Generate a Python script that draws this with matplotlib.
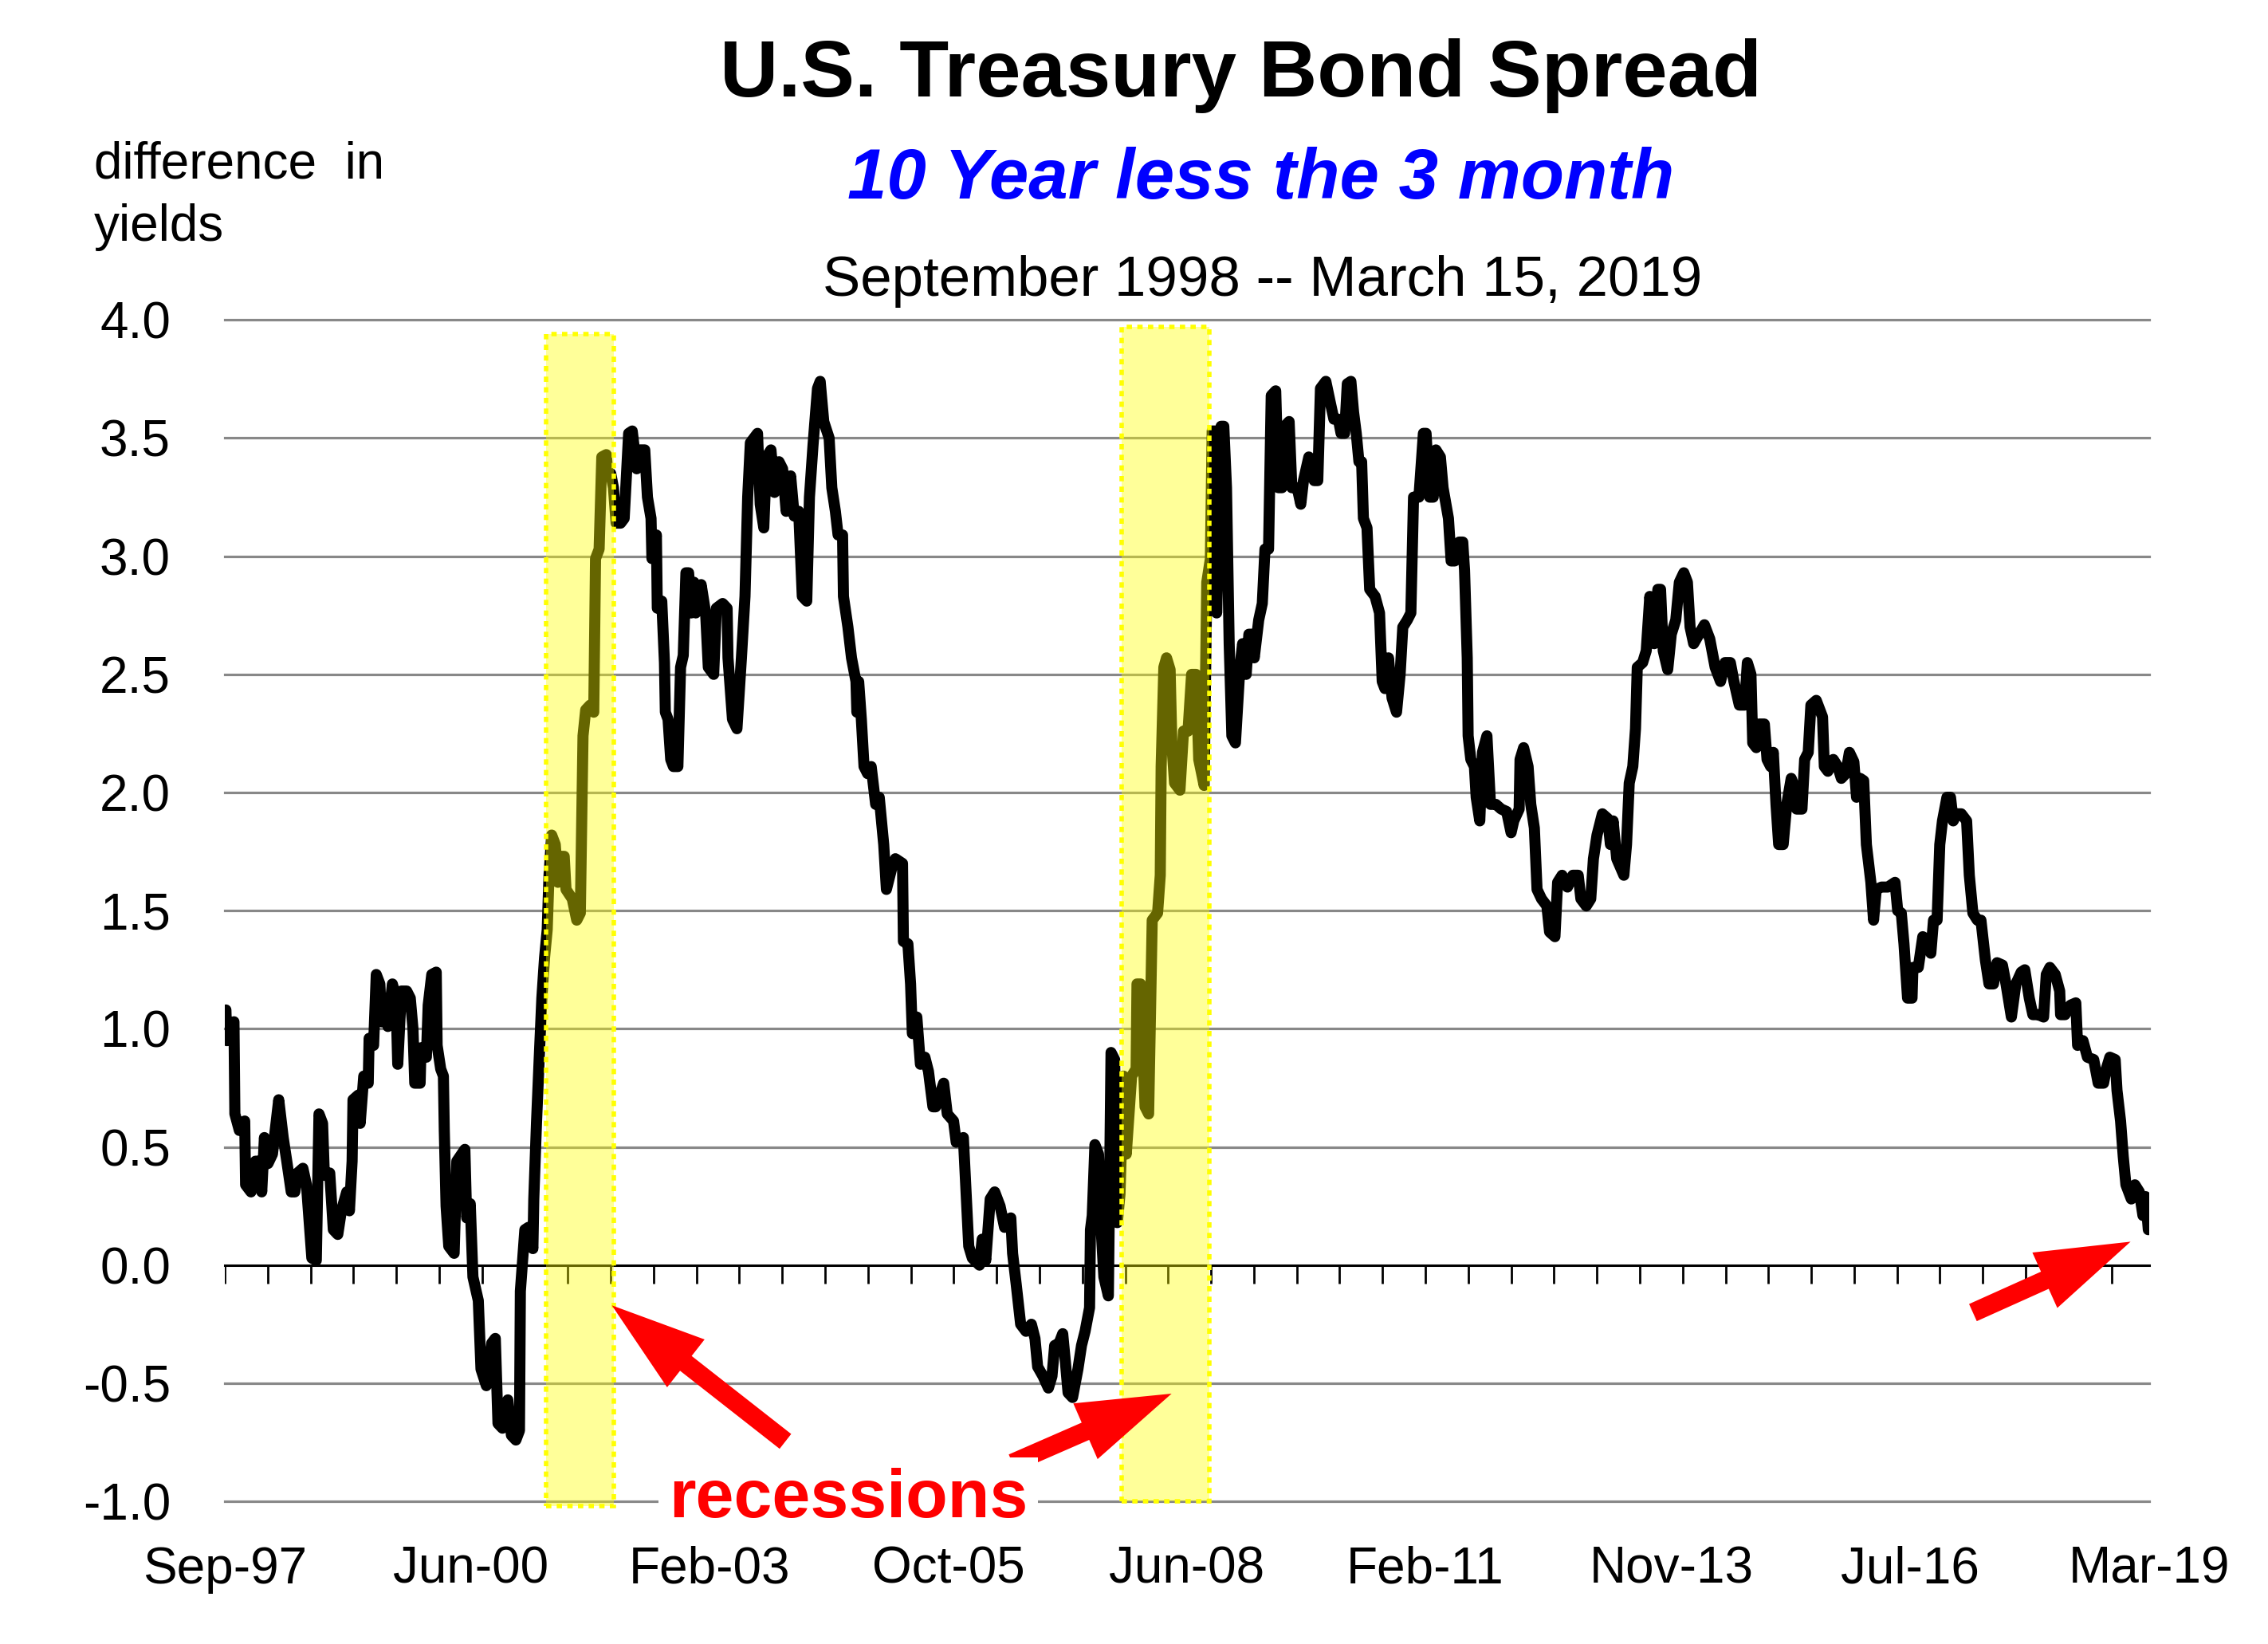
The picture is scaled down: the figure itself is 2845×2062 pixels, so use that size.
import matplotlib
matplotlib.use('Agg')
import matplotlib.pyplot as plt
import numpy as np
from matplotlib.patches import Rectangle, FancyArrow
from matplotlib.transforms import Affine2D

plt.rcParams['font.family'] = ['Liberation Sans', 'DejaVu Sans']
plt.rcParams['axes.unicode_minus'] = False

# weekly spread (decimal year, percentage points)
years = [
    1997.68, 1997.69, 1997.77, 1997.78, 1997.83, 1997.89, 1997.90, 1997.96, 1998.01, 1998.05,
    1998.08, 1998.11, 1998.15, 1998.20, 1998.27, 1998.32, 1998.36, 1998.41, 1998.45, 1998.48,
    1998.54, 1998.58, 1998.64, 1998.69, 1998.72, 1998.76, 1998.78, 1998.84, 1998.88, 1998.93,
    1998.97, 1999.03, 1999.06, 1999.09, 1999.10, 1999.16, 1999.18, 1999.22, 1999.27, 1999.28,
    1999.33, 1999.36, 1999.40, 1999.42, 1999.46, 1999.49, 1999.54, 1999.58, 1999.60, 1999.64,
    1999.70, 1999.74, 1999.77, 1999.79, 1999.85, 1999.86, 1999.92, 1999.94, 1999.98, 2000.03,
    2000.04, 2000.08, 2000.11, 2000.12, 2000.14, 2000.17,
    2000.23, 2000.26, 2000.35, 2000.37, 2000.41, 2000.44, 2000.50, 2000.53, 2000.59, 2000.65,
    2000.69, 2000.72, 2000.77, 2000.83, 2000.87, 2000.92, 2000.96, 2000.97, 2001.02, 2001.06,
    2001.11, 2001.12, 2001.15, 2001.18, 2001.21, 2001.24, 2001.27, 2001.29, 2001.32, 2001.36,
    2001.39, 2001.42, 2001.46, 2001.48, 2001.55, 2001.60, 2001.64, 2001.67, 2001.70, 2001.75,
    2001.79, 2001.81, 2001.85, 2001.88, 2001.93, 2001.95, 2001.98, 2002.01, 2002.04, 2002.09,
    2002.13, 2002.18, 2002.22, 2002.27, 2002.31, 2002.36, 2002.39, 2002.43, 2002.44, 2002.49,
    2002.50, 2002.55, 2002.58, 2002.59, 2002.62, 2002.65, 2002.68, 2002.73, 2002.76, 2002.79,
    2002.82, 2002.85, 2002.88,
    2002.91, 2002.93, 2002.99, 2003.04, 2003.07, 2003.13, 2003.16, 2003.23, 2003.28, 2003.29,
    2003.34, 2003.39, 2003.44, 2003.48, 2003.51, 2003.54, 2003.62, 2003.65, 2003.69, 2003.72,
    2003.77, 2003.81, 2003.86, 2003.90, 2003.94, 2003.99, 2004.03, 2004.08, 2004.12, 2004.17,
    2004.20, 2004.24, 2004.29, 2004.32, 2004.36, 2004.42, 2004.45, 2004.49, 2004.52, 2004.57,
    2004.58, 2004.63, 2004.67, 2004.72, 2004.73, 2004.75, 2004.78, 2004.81, 2004.85, 2004.89,
    2004.94, 2004.98, 2005.03, 2005.06, 2005.12, 2005.16, 2005.24, 2005.25, 2005.30, 2005.33,
    2005.35, 2005.40, 2005.44, 2005.49, 2005.53, 2005.58,
    2005.61, 2005.70, 2005.74, 2005.81, 2005.84, 2005.92, 2005.95, 2005.98, 2006.02, 2006.10,
    2006.13, 2006.17, 2006.22, 2006.27, 2006.33, 2006.38, 2006.45, 2006.47, 2006.51, 2006.56,
    2006.62, 2006.68, 2006.72, 2006.75, 2006.81, 2006.87, 2006.91, 2006.94, 2006.99, 2007.03,
    2007.06, 2007.09, 2007.14, 2007.20, 2007.24, 2007.28, 2007.33, 2007.34, 2007.36, 2007.39,
    2007.43, 2007.46, 2007.49, 2007.54, 2007.57, 2007.61, 2007.64, 2007.67, 2007.71, 2007.74,
    2007.80, 2007.85, 2007.86, 2007.90, 2007.95, 2007.99, 2008.03, 2008.09, 2008.12, 2008.13,
    2008.16, 2008.19, 2008.23,
    2008.25, 2008.28, 2008.34, 2008.38, 2008.43, 2008.47, 2008.52, 2008.55, 2008.61, 2008.64,
    2008.68, 2008.70, 2008.74, 2008.75, 2008.80, 2008.83, 2008.86, 2008.89, 2008.92, 2008.96,
    2009.01, 2009.04, 2009.08, 2009.11, 2009.14, 2009.17, 2009.22, 2009.26, 2009.29, 2009.33,
    2009.36, 2009.41, 2009.44, 2009.48, 2009.51, 2009.56, 2009.59, 2009.65, 2009.69, 2009.72,
    2009.78, 2009.84, 2009.88, 2009.91, 2009.97, 2010.02, 2010.06, 2010.11, 2010.14, 2010.18,
    2010.21, 2010.25, 2010.28, 2010.31, 2010.34, 2010.37, 2010.39, 2010.43, 2010.46, 2010.52,
    2010.57, 2010.60, 2010.63, 2010.67, 2010.71, 2010.76, 2010.80, 2010.83, 2010.88,
    2010.92, 2010.95, 2011.01, 2011.06, 2011.09, 2011.13, 2011.17, 2011.20, 2011.25, 2011.28,
    2011.34, 2011.37, 2011.41, 2011.46, 2011.50, 2011.52, 2011.55, 2011.56, 2011.59, 2011.63,
    2011.65, 2011.69, 2011.72, 2011.77, 2011.81, 2011.87, 2011.93, 2011.99, 2012.04, 2012.07,
    2012.13, 2012.14, 2012.18, 2012.23, 2012.26, 2012.30, 2012.33, 2012.38, 2012.44, 2012.47,
    2012.53, 2012.56, 2012.61, 2012.67, 2012.73, 2012.79, 2012.82, 2012.88, 2012.93, 2012.96,
    2013.00, 2013.06, 2013.12, 2013.15, 2013.18, 2013.22, 2013.30, 2013.33, 2013.36, 2013.40,
    2013.43, 2013.45, 2013.51, 2013.55,
    2013.59, 2013.64, 2013.68, 2013.71, 2013.74, 2013.79, 2013.83, 2013.88, 2013.92, 2013.97,
    2014.01, 2014.04, 2014.08, 2014.14, 2014.20, 2014.26, 2014.32, 2014.38, 2014.43, 2014.49,
    2014.53, 2014.59, 2014.65, 2014.68, 2014.72, 2014.74, 2014.78, 2014.81, 2014.87, 2014.90,
    2014.94, 2014.97, 2015.00, 2015.03, 2015.08, 2015.12, 2015.17, 2015.20, 2015.23, 2015.29,
    2015.32, 2015.36, 2015.39, 2015.45, 2015.52, 2015.54, 2015.58, 2015.64, 2015.69, 2015.73,
    2015.78, 2015.82, 2015.87, 2015.90, 2015.94, 2015.98, 2016.01, 2016.06, 2016.09, 2016.12,
    2016.18, 2016.25,
    2016.33, 2016.36, 2016.40, 2016.43, 2016.47, 2016.52, 2016.53, 2016.59, 2016.64, 2016.68,
    2016.73, 2016.76, 2016.80, 2016.83, 2016.86, 2016.91, 2016.95, 2016.98, 2017.02, 2017.07,
    2017.13, 2017.16, 2017.20, 2017.25, 2017.29, 2017.34, 2017.38, 2017.43, 2017.47, 2017.53,
    2017.57, 2017.63, 2017.68, 2017.74, 2017.78, 2017.83, 2017.87, 2017.93, 2017.99, 2018.02,
    2018.06, 2018.12, 2018.17, 2018.18, 2018.23, 2018.29, 2018.35, 2018.37, 2018.43, 2018.48,
    2018.55, 2018.60, 2018.66, 2018.69, 2018.73, 2018.79, 2018.81, 2018.85, 2018.88, 2018.91,
    2018.97, 2019.01, 2019.06, 2019.10, 2019.13, 2019.16,
]
spread = [
    1.08, 0.95, 1.03, 0.64, 0.57, 0.61, 0.34, 0.31, 0.44, 0.44,
    0.31, 0.54, 0.43, 0.47, 0.70, 0.54, 0.44, 0.31, 0.31, 0.39,
    0.41, 0.34, 0.03, 0.02, 0.64, 0.60, 0.38, 0.39, 0.15, 0.13,
    0.23, 0.31, 0.23, 0.44, 0.70, 0.72, 0.60, 0.80, 0.77, 0.96,
    0.93, 1.23, 1.19, 1.03, 1.13, 1.01, 1.19, 1.13, 0.85, 1.16,
    1.16, 1.13, 1.00, 0.77, 0.77, 0.92, 0.88, 1.10, 1.23, 1.24,
    0.93, 0.83, 0.80, 0.57, 0.25, 0.08,
    0.05, 0.44, 0.49, 0.20, 0.26, -0.05, -0.15, -0.44, -0.51, -0.33,
    -0.31, -0.67, -0.69, -0.57, -0.72, -0.74, -0.70, -0.11, 0.15, 0.16,
    0.07, 0.28, 0.60, 0.87, 1.13, 1.30, 1.42, 1.65, 1.82, 1.78,
    1.62, 1.73, 1.73, 1.59, 1.55, 1.46, 1.49, 2.24, 2.35, 2.37,
    2.34, 2.99, 3.03, 3.42, 3.43, 3.34, 3.35, 3.29, 3.14, 3.14,
    3.16, 3.52, 3.53, 3.37, 3.45, 3.45, 3.25, 3.16, 2.99, 3.09,
    2.78, 2.81, 2.55, 2.34, 2.31, 2.14, 2.11, 2.11, 2.53, 2.58,
    2.93, 2.93, 2.76,
    2.89, 2.76, 2.88, 2.76, 2.53, 2.50, 2.78, 2.80, 2.78, 2.57,
    2.31, 2.27, 2.57, 2.83, 3.25, 3.48, 3.52, 3.22, 3.12, 3.42,
    3.45, 3.27, 3.40, 3.37, 3.19, 3.34, 3.17, 3.19, 2.83, 2.81,
    3.25, 3.47, 3.71, 3.74, 3.57, 3.50, 3.29, 3.19, 3.09, 3.09,
    2.83, 2.70, 2.57, 2.47, 2.34, 2.47, 2.31, 2.11, 2.08, 2.11,
    1.95, 1.98, 1.78, 1.59, 1.68, 1.72, 1.70, 1.37, 1.36, 1.19,
    0.98, 1.05, 0.85, 0.88, 0.82, 0.67,
    0.67, 0.77, 0.64, 0.61, 0.52, 0.54, 0.31, 0.08, 0.03, 0.00,
    0.11, 0.02, 0.28, 0.31, 0.25, 0.16, 0.20, 0.05, -0.08, -0.25,
    -0.28, -0.25, -0.31, -0.43, -0.47, -0.52, -0.47, -0.34, -0.33, -0.29,
    -0.41, -0.54, -0.56, -0.44, -0.34, -0.28, -0.18, 0.15, 0.21, 0.51,
    0.47, 0.15, -0.05, -0.13, 0.90, 0.87, 0.18, 0.30, 0.80, 0.47,
    0.80, 0.83, 1.19, 1.19, 0.67, 0.64, 1.46, 1.49, 1.65, 2.11,
    2.53, 2.57, 2.52,
    2.20, 2.04, 2.01, 2.26, 2.26, 2.50, 2.50, 2.14, 2.03, 2.89,
    2.99, 3.53, 3.53, 2.76, 3.55, 3.55, 3.29, 2.63, 2.24, 2.21,
    2.53, 2.63, 2.50, 2.67, 2.67, 2.57, 2.73, 2.80, 3.03, 3.03,
    3.68, 3.70, 3.29, 3.29, 3.55, 3.57, 3.29, 3.29, 3.22, 3.32,
    3.42, 3.32, 3.32, 3.71, 3.74, 3.65, 3.58, 3.58, 3.52, 3.52,
    3.73, 3.74, 3.61, 3.52, 3.40, 3.40, 3.16, 3.12, 2.86, 2.83,
    2.76, 2.47, 2.44, 2.57, 2.40, 2.34, 2.50, 2.70, 2.73,
    2.76, 3.25, 3.25, 3.52, 3.52, 3.25, 3.25, 3.45, 3.42, 3.29,
    3.16, 2.98, 2.98, 3.06, 3.06, 2.94, 2.57, 2.24, 2.14, 2.11,
    1.98, 1.88, 2.17, 2.24, 1.95, 1.95, 1.93, 1.92, 1.83, 1.88,
    1.93, 2.14, 2.19, 2.11, 1.95, 1.85, 1.59, 1.55, 1.52, 1.41,
    1.39, 1.62, 1.65, 1.60, 1.65, 1.65, 1.55, 1.52, 1.55, 1.72,
    1.82, 1.91, 1.89, 1.78, 1.88, 1.72, 1.65, 1.78, 2.04, 2.11,
    2.27, 2.53, 2.55, 2.60,
    2.83, 2.63, 2.86, 2.86, 2.60, 2.52, 2.67, 2.73, 2.89, 2.93,
    2.89, 2.70, 2.63, 2.67, 2.71, 2.65, 2.53, 2.47, 2.55, 2.55,
    2.47, 2.37, 2.37, 2.55, 2.50, 2.21, 2.19, 2.29, 2.29, 2.14,
    2.11, 2.17, 1.95, 1.78, 1.78, 1.95, 2.06, 2.03, 1.93, 1.93,
    2.14, 2.17, 2.37, 2.39, 2.32, 2.11, 2.09, 2.14, 2.11, 2.06,
    2.08, 2.17, 2.13, 1.98, 2.06, 2.05, 1.78, 1.62, 1.46, 1.59,
    1.60, 1.60,
    1.62, 1.50, 1.49, 1.36, 1.13, 1.13, 1.26, 1.26, 1.39, 1.38,
    1.32, 1.46, 1.46, 1.78, 1.88, 1.98, 1.98, 1.88, 1.91, 1.91,
    1.88, 1.65, 1.49, 1.46, 1.46, 1.29, 1.19, 1.19, 1.28, 1.27,
    1.19, 1.05, 1.19, 1.24, 1.25, 1.13, 1.06, 1.06, 1.05, 1.23,
    1.26, 1.23, 1.16, 1.06, 1.06, 1.10, 1.11, 0.93, 0.95, 0.88,
    0.87, 0.77, 0.77, 0.83, 0.88, 0.87, 0.74, 0.61, 0.46, 0.34,
    0.28, 0.34, 0.31, 0.21, 0.29, 0.15,
]

# recession shading as drawn on the chart
recession_start = [2001.26, 2007.69]
recession_end = [2002.01, 2008.67]
recession_top = [3.94, 3.97]
recession_bottom = [-1.02, -1.0]

x_start, x_end = 1997.667, 2019.167
label_dates = [1997.667, 2000.417, 2003.083, 2005.75, 2008.417, 2011.083, 2013.833, 2016.5, 2019.167]
label_names = ['Sep-97', 'Jun-00', 'Feb-03', 'Oct-05', 'Jun-08', 'Feb-11', 'Nov-13', 'Jul-16', 'Mar-19']
y_values = [4.0, 3.5, 3.0, 2.5, 2.0, 1.5, 1.0, 0.5, 0.0, -0.5, -1.0]

fig = plt.figure(figsize=(28.45, 20.62), dpi=100)
ax = fig.add_axes([0.0991, 0.0867, 0.8484, 0.7187])
ax.set_xlim(x_start, x_end)
ax.set_ylim(-1.0, 4.0)
for s in ax.spines.values():
    s.set_visible(False)

for v in y_values:
    if v == 0:
        ax.axhline(0, color='black', lw=2.2, zorder=2, clip_on=False)
    else:
        ax.axhline(v, color='#888888', lw=2.3, zorder=1, clip_on=False)

# small ticks every 25 weeks hanging from the zero line
tick_x = x_start + np.arange(45) * 25 * 7 / 365.25
ax.vlines(tick_x, -0.078, 0, color='black', lw=2.0, zorder=2)

ax.plot(years, spread, color='black', lw=10, solid_joinstyle='round',
        solid_capstyle='round', zorder=3)

for x0, x1, b, t in zip(recession_start, recession_end, recession_bottom, recession_top):
    ax.add_patch(Rectangle((x0, b), x1 - x0, t - b, facecolor=(1, 1, 0, 0.4),
                           edgecolor=(1, 1, 0, 1), lw=4, ls=(0, (1.2, 1.2)),
                           zorder=4, clip_on=False))

ax.set_xticks(label_dates)
ax.set_xticklabels(label_names, fontsize=46)
ax.set_yticks(y_values)
ax.set_yticklabels(['%.1f' % v for v in y_values], fontsize=46)
ax.tick_params(axis='x', length=0, pad=40)
ax.tick_params(axis='y', length=0, pad=49)

fig.text(0.547, 0.9415, 'U.S. Treasury Bond Spread', fontsize=73, fontweight='bold',
         ha='center', va='baseline')
fig.text(0.556, 0.8792, '10 Year less the 3 month', fontsize=64, fontweight='bold',
         style='italic', color='#0000FF', ha='center', va='baseline')
fig.text(0.5565, 0.8202, 'September 1998 -- March 15, 2019', fontsize=51,
         ha='center', va='baseline')
fig.text(0.0415, 0.8914, 'difference  in', fontsize=46, va='baseline')
fig.text(0.0415, 0.8537, 'yields', fontsize=46, va='baseline')

fig.text(0.374, 0.0772, 'recessions', fontsize=62, fontweight='bold', color='red',
         ha='center', va='baseline', zorder=5,
         bbox=dict(boxstyle='square,pad=0.15', facecolor='white', edgecolor='none'))

# red block arrows, placed in the picture's pixel grid (1568 x 1136)
px = Affine2D().scale(1 / 1568, -1 / 1136).translate(0, 1) + fig.transFigure
arrow_tails = [(543, 996), (700, 1011), (1364, 907)]
arrow_tips = [(423, 902), (810, 963), (1473, 858)]
for (tx, ty), (hx, hy) in zip(arrow_tails, arrow_tips):
    fig.add_artist(FancyArrow(tx, ty, hx - tx, hy - ty, width=13, head_width=42,
                              head_length=65, length_includes_head=True,
                              color='#FF0000', lw=0, transform=px))

fig.savefig('out.png', dpi=100)
